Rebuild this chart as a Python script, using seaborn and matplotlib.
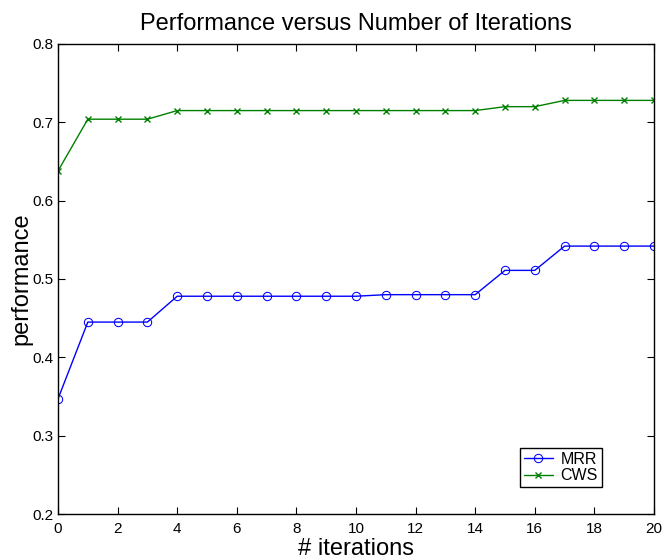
import numpy as np
import pandas as pd
import matplotlib
matplotlib.use("Agg")
import matplotlib.pyplot as plt
import seaborn as sns

# iteration numbers
iterations = list(range(21))

# MRR performance per iteration
mrr = [0.347, 0.445, 0.445, 0.445, 0.478, 0.478, 0.478, 0.478, 0.478, 0.478, 0.478,
       0.480, 0.480, 0.480, 0.480, 0.511, 0.511, 0.542, 0.542, 0.542, 0.542]

# CWS performance per iteration
cws = [0.638, 0.704, 0.704, 0.704, 0.715, 0.715, 0.715, 0.715, 0.715, 0.715, 0.715,
       0.715, 0.715, 0.715, 0.715, 0.720, 0.720, 0.728, 0.728, 0.728, 0.728]

sns.set_style("ticks")
plt.rcParams['font.family'] = ['Liberation Sans', 'DejaVu Sans']
plt.rcParams['xtick.direction'] = 'in'
plt.rcParams['ytick.direction'] = 'in'
plt.rcParams['text.color'] = 'black'
plt.rcParams['axes.labelcolor'] = 'black'
plt.rcParams['xtick.color'] = 'black'
plt.rcParams['ytick.color'] = 'black'

df = pd.DataFrame({'iter': iterations, 'MRR': mrr, 'CWS': cws})

fig = plt.figure(figsize=(6.63, 5.59), dpi=100)
ax = fig.add_axes([0.0875, 0.0805, 0.8989, 0.8408])

sns.lineplot(x='iter', y='MRR', data=df, ax=ax, color='#0000ff', marker='o',
             markerfacecolor='none', markeredgecolor='#0000ff', markersize=6,
             linewidth=1, label='MRR')
sns.lineplot(x='iter', y='CWS', data=df, ax=ax, color='#008000', marker='x',
             markeredgecolor='#008000', markersize=4.5, markeredgewidth=1,
             linewidth=1, label='CWS')

ax.set_xlim(0, 20)
ax.set_ylim(0.2, 0.8)
ax.set_xticks(range(0, 21, 2))
ax.set_yticks(np.arange(0.2, 0.81, 0.1))
ax.set_yticklabels(['0.2', '0.3', '0.4', '0.5', '0.6', '0.7', '0.8'])
ax.tick_params(labelsize=11, top=True, right=True, length=5, width=0.8)
ax.tick_params(axis='x', pad=6)
for s in ax.spines.values():
    s.set_linewidth(1)
    s.set_color('black')

ax.set_title("Performance versus Number of Iterations", fontsize=17, pad=10, color='black')
ax.set_xlabel("# iterations", fontsize=17, labelpad=1)
ax.set_ylabel("performance", fontsize=17, labelpad=0)

leg = ax.legend(loc='lower left', bbox_to_anchor=(0.775, 0.057), fontsize=11.5,
                frameon=True, fancybox=False, edgecolor='black', framealpha=1,
                handlelength=1.8, borderpad=0.25, labelspacing=0.1,
                handletextpad=0.5, borderaxespad=0)
leg.get_frame().set_linewidth(1)

fig.savefig("out.png", dpi=100)
